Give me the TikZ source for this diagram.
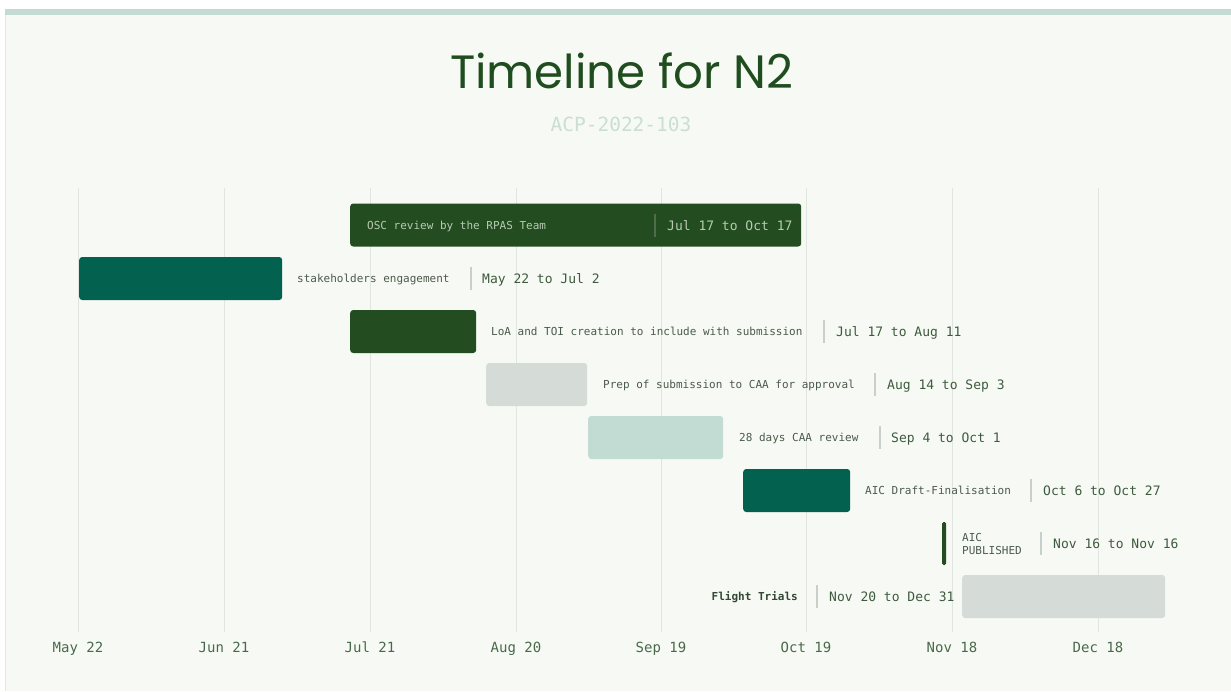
\documentclass[tikz,border=0pt]{standalone}
\usepackage{fontspec}
\setmonofont{DejaVu Sans Mono}
\newfontfamily\titlefont{Poppins}

\definecolor{pagebg}{HTML}{F7FAF4}
\definecolor{topband}{HTML}{C3DBD3}
\definecolor{edgeline}{HTML}{E4E7E3}
\definecolor{gridc}{HTML}{E1E5E0}
\definecolor{forest}{HTML}{234D20}
\definecolor{pine}{HTML}{03614F}
\definecolor{pebble}{HTML}{D5DCD7}
\definecolor{mint}{HTML}{C2DCD4}
\definecolor{titlec}{HTML}{1F4D1F}
\definecolor{subc}{HTML}{CADDD7}
\definecolor{labelc}{HTML}{4B5A4B}
\definecolor{datec}{HTML}{3E5A3E}
\definecolor{axisc}{HTML}{49694A}
\definecolor{sepc}{HTML}{C9CFC9}
\definecolor{oscText}{HTML}{B7CBB2}
\definecolor{oscSep}{HTML}{4F6D4A}

\begin{document}
\begin{tikzpicture}[x=1pt,y=-1pt,
  bar/.style={rounded corners=3pt, inner sep=0pt, anchor=west, minimum height=43pt, draw=none},
  tasklabel/.style={font=\ttfamily\fontsize{11}{14}\selectfont, text=labelc, inner sep=0pt, anchor=mid west, yshift=-2pt},
  datelabel/.style={font=\ttfamily\fontsize{13}{16}\selectfont, text=datec, inner sep=0pt, anchor=mid west, yshift=-3pt},
  sepbar/.style={fill=sepc, draw=none, inner sep=0pt, minimum width=1.3pt, minimum height=23pt},
  axislabel/.style={font=\ttfamily\fontsize{14}{16}\selectfont, text=axisc, inner sep=0pt, anchor=mid, yshift=-2pt},
  gridline/.style={draw=gridc, line width=1pt}
]
% page and panel
\useasboundingbox (0,0) rectangle (1231,691);
\fill[white] (0,0) rectangle (1231,691);
\fill[pagebg] (5,14) rectangle (1231,691);
\fill[topband] (5,9) rectangle (1231,15);
\draw[edgeline, line width=1pt] (5,15) -- (5,691);

% title block
\node[font=\titlefont\fontsize{46.7}{52}\selectfont, text=titlec, inner sep=0pt, anchor=base] (title) at (621.5,88) {Timeline for N2};
\node[font=\ttfamily\fontsize{19.5}{22}\selectfont, text=subc, inner sep=0pt, anchor=mid] (subtitle) at (621,129) {ACP-2022-103};

% month grid and axis labels
\foreach \x/\lab [count=\i] in {78/May 22, 224/Jun 21, 370/Jul 21, 516/Aug 20, 661/Sep 19, 806/Oct 19, 952/Nov 18, 1098/Dec 18}{
  \draw[gridline] (\x,188) -- (\x,632);
  \node[axislabel] (ax\i) at (\x,648) {\lab};
}

% row 1: OSC review
\node[bar, fill=forest, minimum width=451pt] (osc) at (350,225) {};
\node[tasklabel, text=oscText] (osclab) at (367,225) {OSC review by the RPAS Team};
\node[sepbar, fill=oscSep] (oscsep) at (655,225) {};
\node[datelabel, text=oscText] (oscdate) at (667,225) {Jul 17 to Oct 17};

% row 2: stakeholders engagement
\node[bar, fill=pine, minimum width=203pt] (stk) at (79,278.5) {};
\node[tasklabel] (stklab) at (297,278.5) {stakeholders engagement};
\node[sepbar] (stksep) at (471,278.5) {};
\node[datelabel] (stkdate) at (482,278.5) {May 22 to Jul 2};

% row 3: LoA and TOI
\node[bar, fill=forest, minimum width=126pt] (loa) at (350,331.5) {};
\node[tasklabel] (loalab) at (491,331.5) {LoA and TOI creation to include with submission};
\node[sepbar] (loasep) at (824,331.5) {};
\node[datelabel] (loadate) at (836,331.5) {Jul 17 to Aug 11};

% row 4: prep of submission
\node[bar, fill=pebble, minimum width=101pt] (prep) at (486,384.5) {};
\node[tasklabel] (preplab) at (603,384.5) {Prep of submission to CAA for approval};
\node[sepbar] (prepsep) at (875,384.5) {};
\node[datelabel] (prepdate) at (887,384.5) {Aug 14 to Sep 3};

% row 5: CAA review
\node[bar, fill=mint, minimum width=135pt] (caa) at (588,437.5) {};
\node[tasklabel] (caalab) at (739,437.5) {28 days CAA review};
\node[sepbar] (caasep) at (880,437.5) {};
\node[datelabel] (caadate) at (891,437.5) {Sep 4 to Oct 1};

% row 6: AIC draft
\node[bar, fill=pine, minimum width=107pt] (aicd) at (743,490.5) {};
\node[tasklabel] (aicdlab) at (865,490.5) {AIC Draft-Finalisation};
\node[sepbar] (aicdsep) at (1031,490.5) {};
\node[datelabel] (aicddate) at (1043,490.5) {Oct 6 to Oct 27};

% row 7: AIC published (single day)
\node[bar, fill=forest, minimum width=4pt, rounded corners=1.5pt] (aicp) at (942,543.5) {};
\node[tasklabel, align=left, font=\ttfamily\fontsize{11}{13}\selectfont, anchor=west, yshift=2pt] (aicplab) at (962,543.5) {AIC\\PUBLISHED};
\node[sepbar] (aicpsep) at (1041,543.5) {};
\node[datelabel] (aicpdate) at (1053,543.5) {Nov 16 to Nov 16};

% row 8: flight trials (label on the left of the bar)
\node[tasklabel, anchor=mid east, font=\ttfamily\bfseries\fontsize{11}{14}\selectfont, text=datec!80!black] (ftlab) at (798,596.5) {Flight Trials};
\node[sepbar] (ftsep) at (817,596.5) {};
\node[datelabel] (ftdate) at (829,596.5) {Nov 20 to Dec 31};
\node[bar, fill=pebble, minimum width=203pt] (ft) at (962,596.5) {};
\end{tikzpicture}
\end{document}
